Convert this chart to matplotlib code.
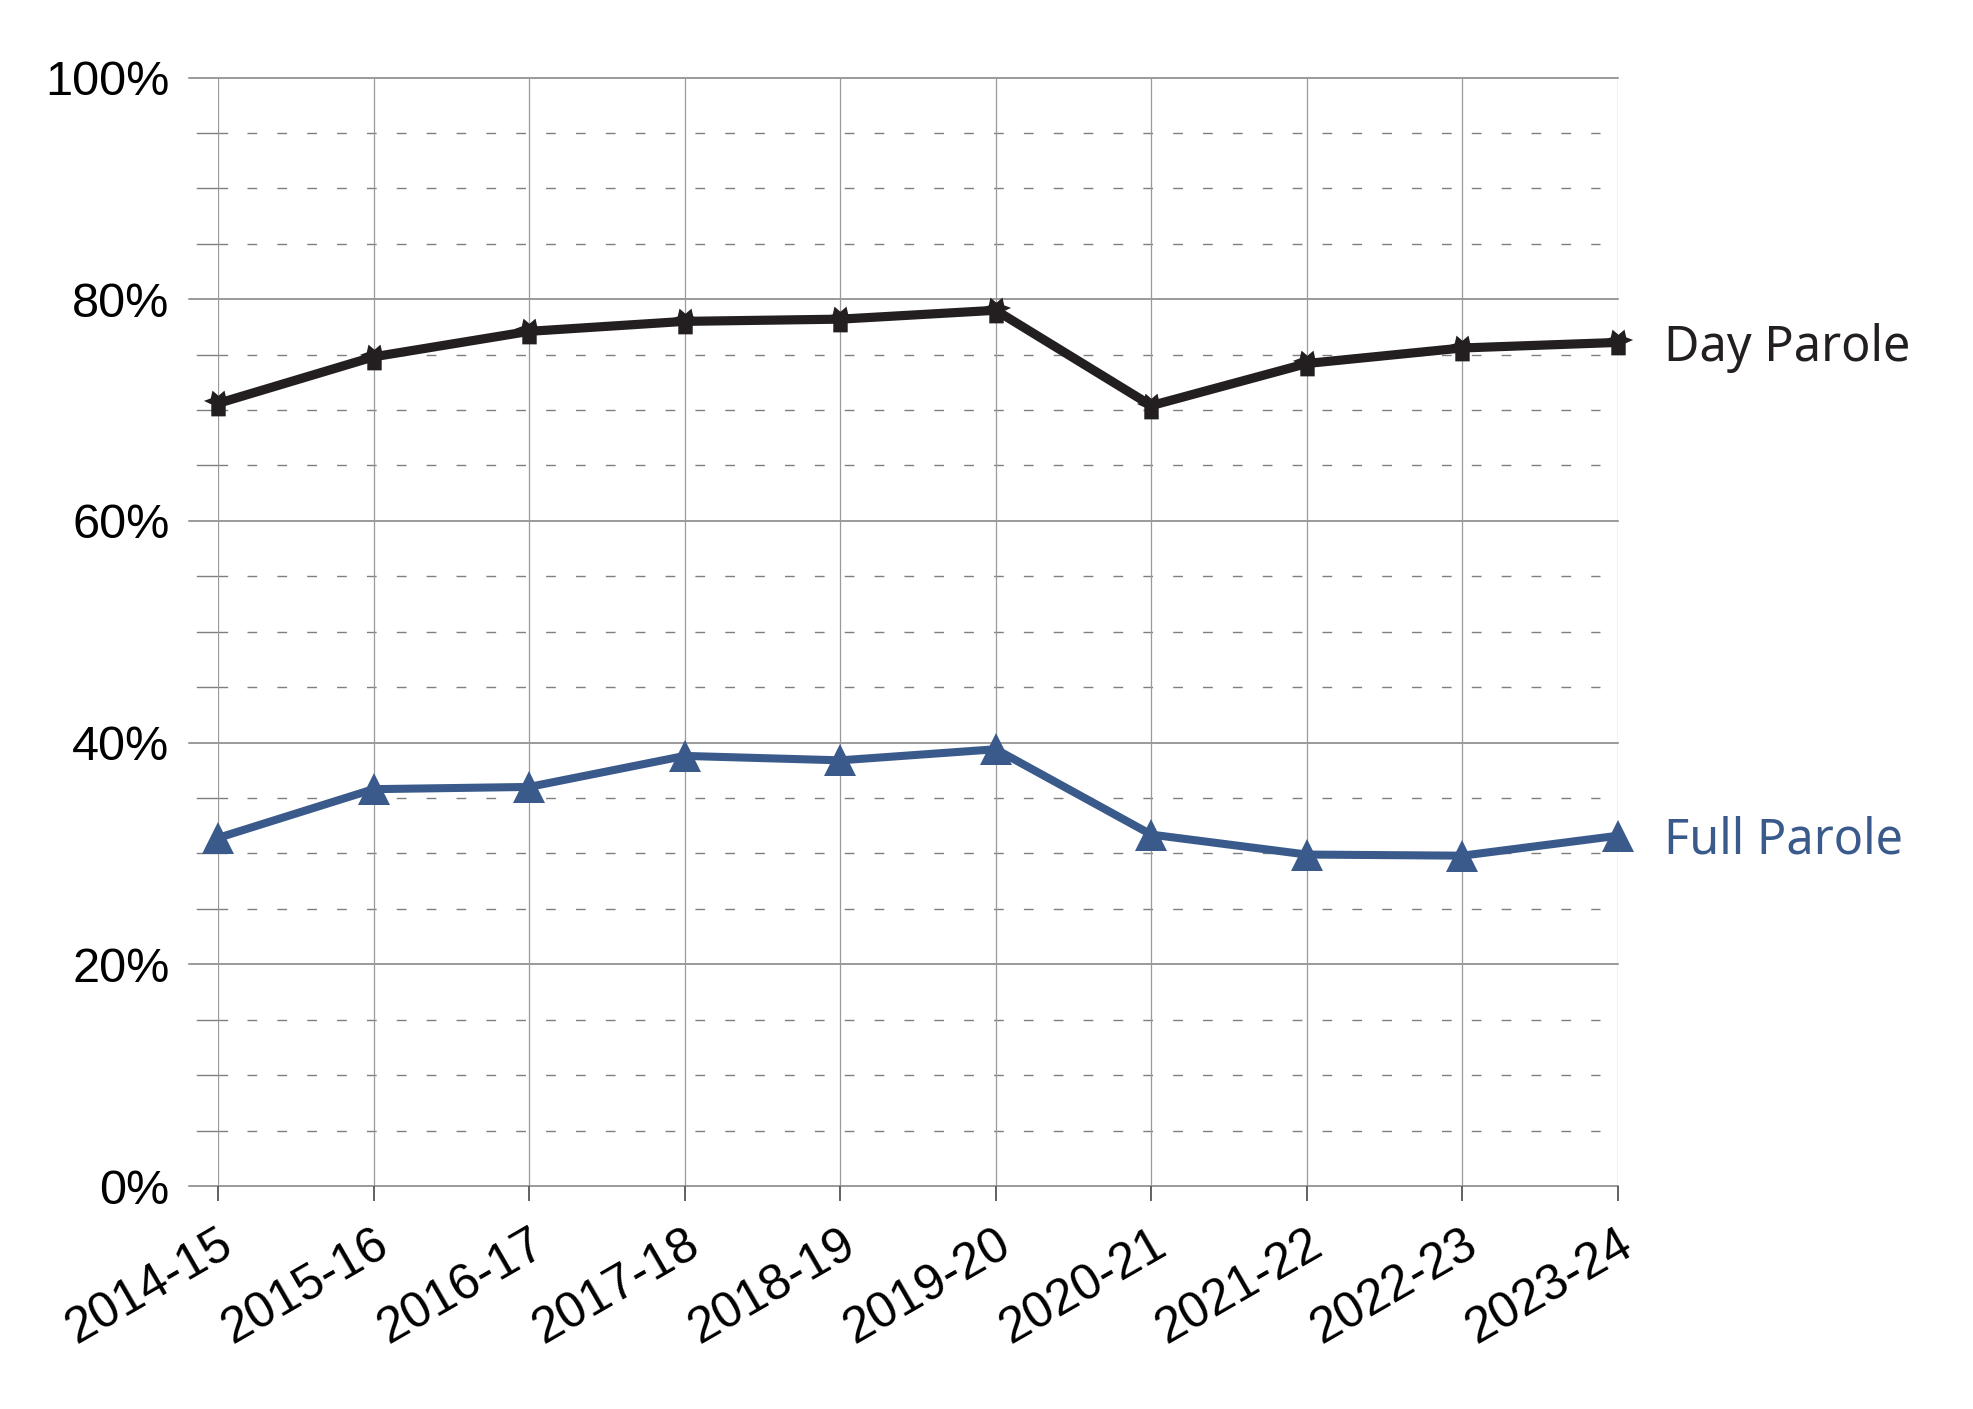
import matplotlib
matplotlib.use("Agg")
import matplotlib.pyplot as plt
from matplotlib.path import Path
import numpy as np

# ---- data ----
years = ["2014-15", "2015-16", "2016-17", "2017-18", "2018-19",
         "2019-20", "2020-21", "2021-22", "2022-23", "2023-24"]
day_parole = [70.6, 74.8, 77.1, 78.0, 78.2, 79.0, 70.4, 74.2, 75.6, 76.1]
full_parole = [31.4, 35.8, 36.0, 38.8, 38.4, 39.4, 31.7, 29.9, 29.8, 31.6]
y_ticks = [0, 20, 40, 60, 80, 100]
y_tick_labels = [f"{v}%" for v in y_ticks]
minor_levels = [v for v in range(5, 100, 5) if v % 20 != 0]
series_names = ["Day Parole", "Full Parole"]

DARK = "#231f20"
BLUE = "#3a5a8c"
GRID = "#7f7f7f"
VGRID = "#9a9a9a"

W, H = 1973, 1409
fig = plt.figure(figsize=(W / 100, H / 100), dpi=100)
left, right, top, bottom = 218, 1618, 77.5, 1186
ax = fig.add_axes([left / W, 1 - bottom / H, (right - left) / W, (bottom - top) / H])
ax.set_xlim(0, len(years) - 1)
ax.set_ylim(0, 100)
for s in ax.spines.values():
    s.set_visible(False)

x = np.arange(len(years))
axw = right - left

# major horizontal gridlines, extended left as tick marks
ytr = ax.get_yaxis_transform()
for v in y_ticks:
    ax.plot([-29 / axw, 1], [v, v], transform=ytr, clip_on=False,
            color=GRID, lw=1.1, zorder=1)
# minor: solid short tick then dashed line
for v in minor_levels:
    ax.plot([-21 / axw, 9 / axw], [v, v], transform=ytr, clip_on=False,
            color=GRID, lw=1.0, zorder=1)
    ax.plot([29 / axw, 1 - 18 / axw], [v, v], transform=ytr, clip_on=False,
            color=GRID, lw=1.0, linestyle=(0, (7, 14.5)), zorder=1)

# vertical gridlines
for xi in x:
    ax.axvline(xi, color=VGRID, lw=0.9, zorder=1)

ax.set_yticks(y_ticks)
ax.set_yticklabels(y_tick_labels, fontfamily="Liberation Sans", fontsize=35)
ax.tick_params(axis="y", length=0, pad=35)

ax.set_xticks(x)
ax.set_xticklabels(years, fontfamily="Liberation Sans", fontsize=36)
ax.tick_params(axis="x", length=11, width=1.3, color="#555555", pad=14)
plt.setp(ax.get_xticklabels(), rotation=30, ha="right", va="top",
         rotation_mode="anchor")

# custom crown marker (square with star spikes on top)
verts = [(-0.42, -0.75), (-0.42, -0.05), (-0.85, 0.15), (-0.45, 0.3),
         (-0.35, 0.75), (0.0, 0.45), (0.35, 0.75), (0.45, 0.3),
         (0.85, 0.15), (0.42, -0.05), (0.42, -0.75), (-0.42, -0.75)]
codes = [Path.MOVETO] + [Path.LINETO] * (len(verts) - 2) + [Path.CLOSEPOLY]
crown = Path(verts, codes)

ax.plot(x, day_parole, color=DARK, lw=6.6, marker=crown, markersize=21,
        markeredgewidth=0, markerfacecolor=DARK, clip_on=False, zorder=5,
        solid_joinstyle="miter")
ax.plot(x, full_parole, color=BLUE, lw=5.8, marker="^", markersize=23,
        markeredgewidth=0, markerfacecolor=BLUE, clip_on=False, zorder=5,
        solid_joinstyle="miter")

ax.annotate(series_names[0], (x[-1], day_parole[-1]), xytext=(33, -13.5),
            textcoords="offset points", ha="left", va="baseline",
            fontfamily="Noto Sans", fontsize=35, color=DARK)
ax.annotate(series_names[1], (x[-1], full_parole[-1]), xytext=(33, -13),
            textcoords="offset points", ha="left", va="baseline",
            fontfamily="Noto Sans", fontsize=35, color=BLUE)

fig.savefig("out.png", dpi=100, facecolor="white")
